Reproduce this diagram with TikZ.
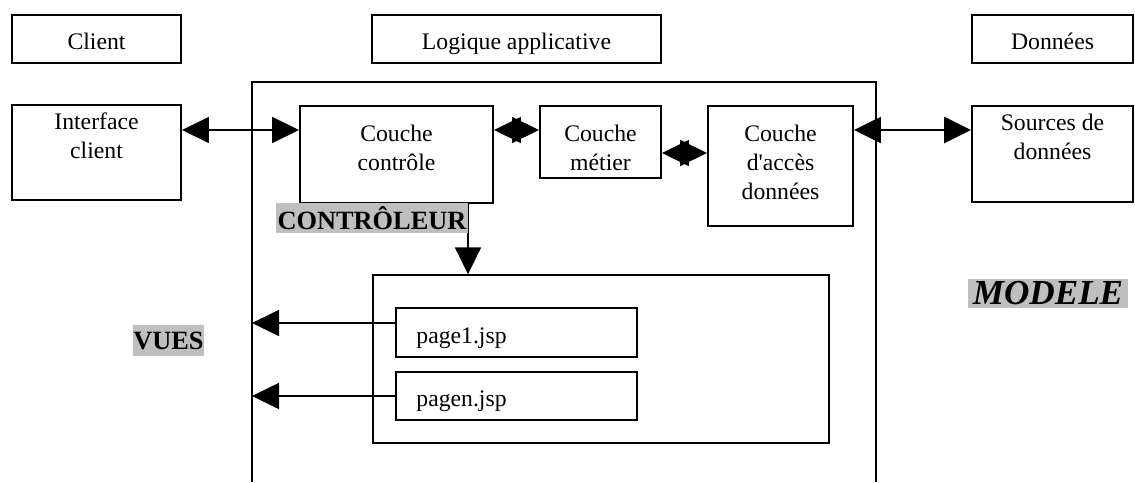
\documentclass[tikz,border=0pt]{standalone}
\usepackage{fontspec}
\setmainfont{Liberation Serif}
\usetikzlibrary{arrows.meta,positioning}
\tikzset{
    mvc diagram/.style = {>={Triangle[length=5.4mm, width=5.2mm]}},
    line/.style        = {line width=1pt},
    block/.style       = {draw, line width=1.1pt, inner sep=0pt},
    header/.style      = {block, txt, minimum height=0.96cm,
                          text height=0.42cm, text depth=0pt},
    frame/.style       = {draw, line width=0.8pt},
    txt/.style         = {font=\fontsize{13.5}{16.5}\selectfont,
                          align=center, inner sep=0pt},
    tag/.style         = {fill=black!25, inner sep=0pt,
                          font=\fontsize{15}{16}\selectfont\bfseries}
}

\begin{document}
\begin{tikzpicture}[mvc diagram]
\useasboundingbox (0,0) rectangle (22.7,-9.64);

% ================= Tier headers =================
\node[header, minimum width=3.38cm] (client) at (1.93,-0.78) {Client};
\node[header, minimum width=5.78cm] (logic) at (10.33,-0.78) {Logique applicative};
\node[header, minimum width=3.22cm] (data) at (21.05,-0.78) {Données};

% ================= Application frame =================
\coordinate (outerNW) at (5.04,-1.64);
\coordinate (outerNE) at (17.52,-1.64);
\draw[frame] (outerNW |- 0,-9.64) -- (outerNW) -- (outerNE) -- (outerNE |- 0,-9.64);

% ================= Layers =================
\node[block, minimum width=3.38cm, minimum height=1.90cm,
      label={[txt, anchor=north, yshift=-0.16cm]north:{Interface\\client}}] (iface) at (1.93,-3.05) {};
\node[block, minimum width=3.86cm, minimum height=1.94cm,
      label={[txt, anchor=north, yshift=-0.40cm]north:{Couche\\contrôle}}] (ctrl) at (7.93,-3.09) {};
\node[block, minimum width=2.42cm, minimum height=1.44cm,
      label={[txt, anchor=north, yshift=-0.40cm]north:{Couche\\métier}}] (metier) at (12.01,-2.84) {};
\node[block, minimum width=2.90cm, minimum height=2.40cm,
      label={[txt, anchor=north, yshift=-0.40cm]north:{Couche\\d\textquotesingle accès\\données}}] (acces) at (15.61,-3.32) {};
\node[block, minimum width=3.22cm, minimum height=1.92cm,
      label={[txt, anchor=north, yshift=-0.18cm]north:{Sources de\\données}}] (sources) at (21.05,-3.08) {};

% ================= Views =================
\node[frame, minimum width=9.12cm, minimum height=3.36cm] (views) at (12.02,-7.18) {};
\node[block, minimum width=4.82cm, minimum height=0.98cm,
      label={[txt, anchor=west, xshift=0.42cm, yshift=-0.12cm]west:page1.jsp}] (page1) at (10.33,-6.65) {};
\node[block, minimum width=4.82cm, minimum height=0.96cm,
      label={[txt, anchor=west, xshift=0.42cm, yshift=-0.10cm]west:pagen.jsp}] (pagen) at (10.33,-7.92) {};

% ================= Connections =================
\draw[<->, line] (iface.east |- 0,-2.60) -- (ctrl.west |- 0,-2.60);
\draw[<->, line] (ctrl.east |- 0,-2.60) -- (metier.west |- 0,-2.60);
\draw[<->, line] (metier.east |- 0,-3.06) -- (acces.west |- 0,-3.06);
\draw[<->, line, line width=1.5pt] (acces.east |- 0,-2.60) -- (sources.west |- 0,-2.60);
\draw[->, line] (ctrl.south -| 9.36,0) -- (views.north -| 9.36,0);
\draw[->, line] ([yshift=0.19cm]page1.west) -- ([yshift=0.19cm]page1.west -| outerNW);
\draw[->, line] (pagen.west) -- (pagen.west -| outerNW);

% ================= MVC tags =================
\node[tag, minimum width=3.84cm, minimum height=0.60cm] (controleur) at (7.44,-4.36) {CONTRÔLEUR};
\node[tag, minimum width=1.42cm, minimum height=0.62cm] (vues) at (3.37,-6.81) {VUES};
\node[tag, minimum width=3.20cm, minimum height=0.58cm,
      font=\fontsize{20}{21}\selectfont\bfseries\itshape] (modele) at (20.96,-5.87) {MODELE};

\end{tikzpicture}
\end{document}
